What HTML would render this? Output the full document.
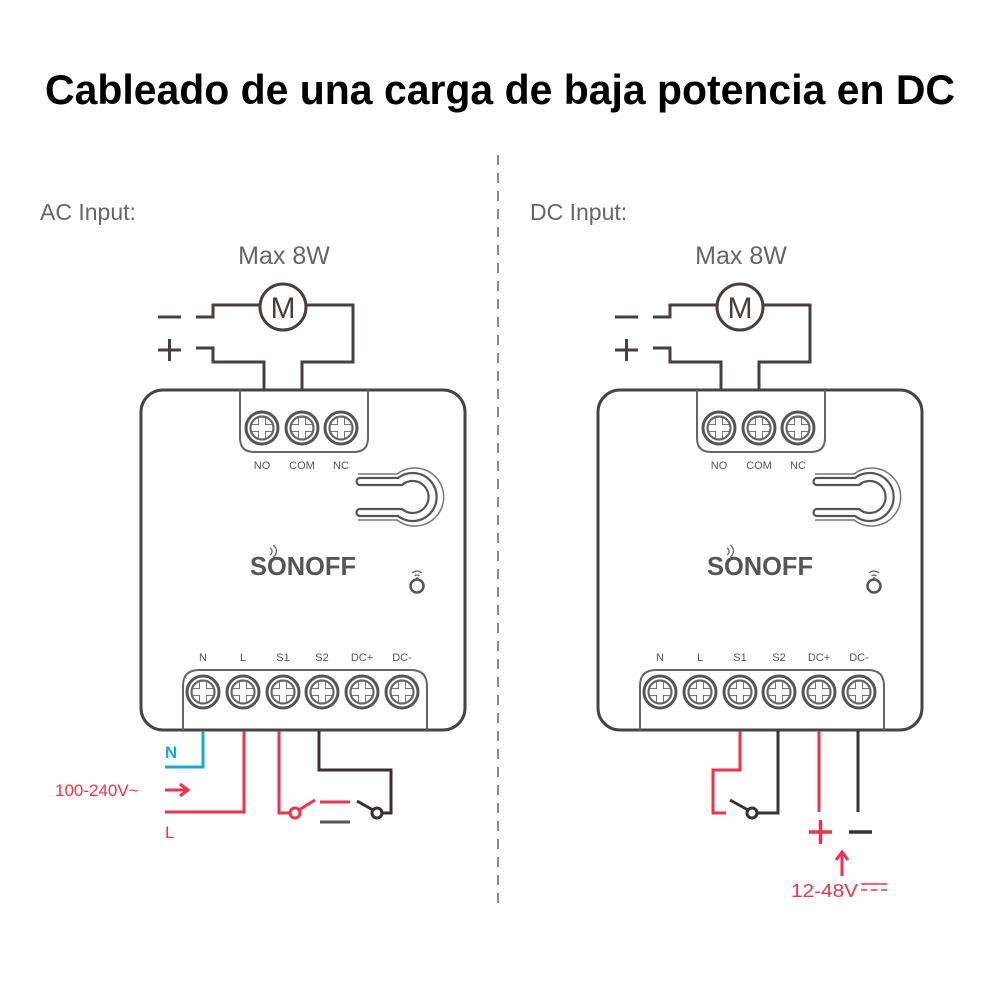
<!DOCTYPE html>
<html><head><meta charset="utf-8"><style>html,body{margin:0;padding:0;background:#fff}svg{display:block}</style></head>
<body>
<svg width="1000" height="1000" viewBox="0 0 1000 1000" xmlns="http://www.w3.org/2000/svg" font-family="Liberation Sans, sans-serif">
<defs>
<g id="screw">
  <circle r="16" fill="#fff" stroke="#555" stroke-width="3"/>
  <circle r="11.5" fill="none" stroke="#666" stroke-width="2.2"/>
  <path d="M-10,-3 H10 M-10,3 H10 M-3,-10 V10 M3,-10 V10" stroke="#666" stroke-width="1.8" fill="none"/>
  <rect x="-3" y="-10" width="6" height="20" fill="#fff"/>
  <rect x="-10" y="-3" width="20" height="6" fill="#fff"/>
</g>
<g id="dev">
  <g fill="none" stroke="#4a3f3f" stroke-width="3">
    <circle cx="283" cy="307" r="23" fill="#fff"/>
    <path d="M196,317 H213 V305 H260"/>
    <path d="M306,305 H353 V362 H302 V390"/>
    <path d="M196,348 H213 V362 H264 V390"/>
    <path d="M158,317 H181"/>
    <path d="M158,350 H181 M169.5,339 V361"/>
  </g>
  <text x="283" y="318" font-size="30" text-anchor="middle" fill="#4a3f3f">M</text>
  <rect x="141" y="390" width="324" height="340" rx="22" fill="none" stroke="#444" stroke-width="3"/>
  <path d="M240,390 V438 Q240,452 254,452 H354 Q368,452 368,438 V390" fill="none" stroke="#666" stroke-width="2"/>
  <use href="#screw" x="262" y="428"/>
  <use href="#screw" x="302" y="428"/>
  <use href="#screw" x="341" y="428"/>
  <g font-size="11" fill="#555" text-anchor="middle">
    <text x="262" y="469">NO</text><text x="302" y="469">COM</text><text x="341" y="469">NC</text>
  </g>
  <path d="M360,478 H398 A24,24 0 1 1 398,516 H360 A3.5,3.5 0 0 1 360,509 H402 A16,16 0 1 0 402,485 H360 A3.5,3.5 0 0 1 360,478 Z" fill="none" stroke="#555" stroke-width="2.2"/>
  <path d="M358,474 H397 A29,29 0 1 1 397,520 H358" fill="none" stroke="#777" stroke-width="1.5"/>
  <text x="250" y="575" font-size="26" font-weight="bold" fill="#555" textLength="106" lengthAdjust="spacingAndGlyphs">SONOFF</text>
  <path d="M270,548 a4,4 0 0 1 0,7 M273,545 a7,7 0 0 1 0,12" fill="none" stroke="#666" stroke-width="1.3"/>
  <circle cx="417" cy="586" r="6.5" fill="none" stroke="#555" stroke-width="2.5"/>
  <path d="M412,573 q5,-4 10,0 M414.5,576 q2.5,-2 5,0" fill="none" stroke="#666" stroke-width="1.3"/>
  <line x1="417" y1="577" x2="417" y2="580" stroke="#666" stroke-width="1.5"/>
  <g font-size="11" fill="#555" text-anchor="middle">
    <text x="203" y="661">N</text><text x="243" y="661">L</text><text x="283" y="661">S1</text><text x="322" y="661">S2</text><text x="362" y="661">DC+</text><text x="402" y="661">DC-</text>
  </g>
  <path d="M183,730 V686 Q183,670 199,670 H411 Q427,670 427,686 V730" fill="none" stroke="#666" stroke-width="2"/>
  <use href="#screw" x="203" y="692"/>
  <use href="#screw" x="243" y="692"/>
  <use href="#screw" x="283" y="692"/>
  <use href="#screw" x="322" y="692"/>
  <use href="#screw" x="362" y="692"/>
  <use href="#screw" x="402" y="692"/>
</g>
</defs>

<text x="500" y="104" font-size="42" font-weight="bold" text-anchor="middle" fill="#000" textLength="910" lengthAdjust="spacingAndGlyphs">Cableado de una carga de baja potencia en DC</text>
<line x1="498" y1="155" x2="498" y2="905" stroke="#888" stroke-width="2" stroke-dasharray="10,8"/>
<text x="40" y="220" font-size="23" fill="#666">AC Input:</text>
<text x="530" y="220" font-size="23" fill="#666">DC Input:</text>
<text x="284" y="264" font-size="25" fill="#666" text-anchor="middle">Max 8W</text>
<text x="741" y="264" font-size="25" fill="#666" text-anchor="middle">Max 8W</text>

<use href="#dev"/>
<use href="#dev" x="457"/>

<g fill="none" stroke-width="3">
  <path d="M203,731 V767 H165" stroke="#1aa7dc"/>
  <path d="M244,731 V812 H165" stroke="#f0324e"/>
  <path d="M279,731 V813 H290" stroke="#f0324e"/>
  <circle cx="295" cy="813" r="5" stroke="#f0324e"/>
  <path d="M299,810 L315,800" stroke="#f0324e"/>
  <path d="M320,802 H350" stroke="#f0324e"/>
  <path d="M320,822 H350" stroke="#555"/>
  <path d="M319,731 V770 H391 V813 H382" stroke="#3a3030"/>
  <circle cx="377" cy="813" r="5" stroke="#3a3030"/>
  <path d="M373,810 L357,801" stroke="#3a3030"/>
  <path d="M165,790 H186" stroke="#f0324e"/>
  <path d="M180,784 L188,790 L180,796" stroke="#f0324e"/>
</g>
<text x="165" y="758" font-size="17" font-weight="bold" fill="#1aa7dc">N</text>
<text x="55" y="796" font-size="17" fill="#f0324e">100-240V~</text>
<text x="165" y="838" font-size="17" fill="#f0324e">L</text>

<g fill="none" stroke-width="3">
  <path d="M740,731 V770 H713 V813 H726" stroke="#f0324e"/>
  <path d="M730,800 L748,810" stroke="#3a3030"/>
  <circle cx="752" cy="813" r="5" stroke="#3a3030"/>
  <path d="M757,813 H778 V731" stroke="#3a3030"/>
  <path d="M819,731 V812" stroke="#f0324e"/>
  <path d="M858,731 V812" stroke="#3a3030"/>
  <path d="M809,832 H832 M820.5,820 V844" stroke="#f0324e" stroke-width="3.5"/>
  <path d="M849,832 H872" stroke="#3a3030" stroke-width="3.5"/>
  <path d="M842,876 V853 M836,860 L842,852 L848,860" stroke="#f0324e"/>
  <path d="M861,884 H887 M861,890 H867 M871,890 H877 M881,890 H887" stroke="#f0324e" stroke-width="1.5"/>
</g>
<text x="791" y="897" font-size="18" fill="#f0324e" textLength="67" lengthAdjust="spacingAndGlyphs">12-48V</text>
</svg>
</body></html>
